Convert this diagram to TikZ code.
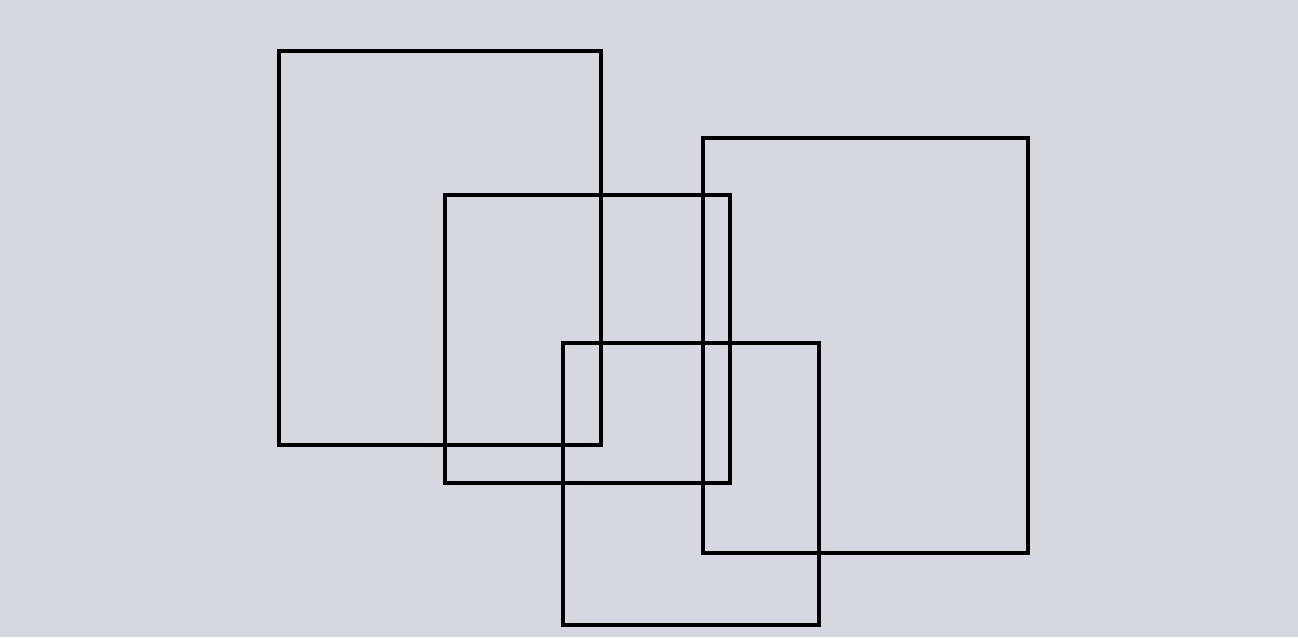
\documentclass[tikz,border=0pt]{standalone}
\definecolor{bg}{HTML}{D5D8E0}
\begin{document}
\begin{tikzpicture}[x=1pt,y=-1pt,box/.style={draw=black,line width=4.2pt,inner sep=0pt,outer sep=0pt,anchor=north west}]
\fill[bg] (0,0) rectangle (1298,637);
\useasboundingbox (0,0) rectangle (1298,637);
\node[box,minimum width=322pt,minimum height=394pt] (r1) at (279,51) {};
\node[box,minimum width=285pt,minimum height=288pt] (r2) at (445,195) {};
\node[box,minimum width=325pt,minimum height=415pt] (r3) at (703,138) {};
\node[box,minimum width=256pt,minimum height=282pt] (r4) at (563,343) {};
\end{tikzpicture}
\end{document}
